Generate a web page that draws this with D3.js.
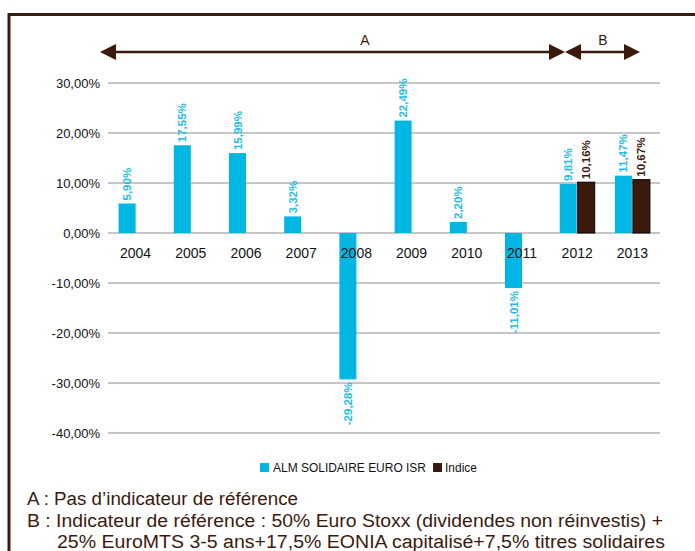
<!DOCTYPE html>
<html lang="fr">
<head>
<meta charset="utf-8">
<title>ALM SOLIDAIRE EURO ISR</title>
<script src="https://d3js.org/d3.v7.min.js"></script>
<style>
  body { margin: 0; background: #fff; }
  svg { display: block; }
</style>
</head>
<body>
<script>
// data
var years = ["2004", "2005", "2006", "2007", "2008", "2009", "2010", "2011", "2012", "2013"];
var fund = [5.90, 17.55, 15.99, 3.32, -29.28, 22.49, 2.20, -11.01, 9.81, 11.47];
var indice = [null, null, null, null, null, null, null, null, 10.16, 10.67];
var yTicks = [30, 20, 10, 0, -10, -20, -30, -40];
var seriesNames = ["ALM SOLIDAIRE EURO ISR", "Indice"];
var colors = ["#00b7e4", "#3b1a0d"];

var w = 695, h = 551;
var svg = d3.select("body").append("svg").attr("width", w).attr("height", h);

// frame
svg.append("path")
  .attr("d", "M9," + h + "V14.5H" + w)
  .attr("fill", "none").attr("stroke", "#3b1a0d").attr("stroke-width", 3);

var x = d3.scaleBand().domain(years).range([108, 660]);
var y = d3.scaleLinear().domain([-40, 30]).range([433, 83]);
var barW = 17;

function fmt(v) { return v.toFixed(2).replace(".", ",") + "%"; }

// gridlines
svg.selectAll("line.grid").data(yTicks).enter().append("line")
  .attr("x1", 108).attr("x2", 660)
  .attr("y1", function (d) { return y(d); }).attr("y2", function (d) { return y(d); })
  .attr("stroke", "#b3b3b3").attr("stroke-width", 1.5);

svg.selectAll("text.ytick").data(yTicks).enter().append("text")
  .attr("x", 100).attr("y", function (d) { return y(d) + 4.5; })
  .attr("text-anchor", "end")
  .attr("font-family", "'Liberation Sans', Arial, sans-serif")
  .attr("font-size", "13px").attr("fill", "#111")
  .text(function (d) { return d.toFixed(2).replace(".", ",") + "%"; });

// bars
function barX(i, s) {
  var c = x(years[i]) + x.bandwidth() / 2;
  var hasIdx = indice[i] !== null;
  if (!hasIdx) return c - barW;
  return s === 0 ? c - barW - 0.5 : c + 0.5;
}

var bars = [];
fund.forEach(function (v, i) { bars.push({ i: i, s: 0, v: v }); });
indice.forEach(function (v, i) { if (v !== null) bars.push({ i: i, s: 1, v: v }); });

svg.selectAll("rect.bar").data(bars).enter().append("rect")
  .attr("x", function (d) { return barX(d.i, d.s); })
  .attr("y", function (d) { return y(Math.max(0, d.v)); })
  .attr("width", barW)
  .attr("height", function (d) { return Math.abs(y(d.v) - y(0)); })
  .attr("fill", function (d) { return colors[d.s]; })
  .attr("stroke", function (d) { return d.s === 1 ? "#000" : "none"; })
  .attr("stroke-width", 1);

// year labels
svg.selectAll("text.year").data(years).enter().append("text")
  .attr("x", function (d) { return x(d) + x.bandwidth() / 2; })
  .attr("y", y(0) + 25)
  .attr("text-anchor", "middle")
  .attr("font-family", "'Liberation Sans', Arial, sans-serif")
  .attr("font-size", "14px").attr("fill", "#111")
  .text(function (d) { return d; });

// value labels
svg.selectAll("text.val").data(bars).enter().append("text")
  .attr("transform", function (d) {
    var cx = barX(d.i, d.s) + barW / 2 + 4;
    var cy = d.v >= 0 ? y(d.v) - 3 : y(d.v) + 3;
    return "translate(" + cx + "," + cy + ") rotate(-90)";
  })
  .attr("text-anchor", function (d) { return d.v >= 0 ? "start" : "end"; })
  .attr("font-family", "'Liberation Sans', Arial, sans-serif")
  .attr("font-size", "11.5px").attr("font-weight", "bold")
  .attr("fill", function (d) { return d.s === 1 ? "#3b1a0d" : "#1fbde6"; })
  .text(function (d) { return fmt(d.v); });

// period arrows
var brown = "#3b1a0d";
var ay = 52, aL = 100, aM = 565, aR = 640;
svg.append("line").attr("x1", aL + 14).attr("x2", aM - 12).attr("y1", ay).attr("y2", ay)
  .attr("stroke", brown).attr("stroke-width", 2.5);
svg.append("line").attr("x1", aM + 12).attr("x2", aR - 14).attr("y1", ay).attr("y2", ay)
  .attr("stroke", brown).attr("stroke-width", 2.5);
function head(tip, dir) {
  svg.append("path")
    .attr("d", "M" + tip + "," + ay + "L" + (tip + dir * 16) + "," + (ay - 8) + "L" + (tip + dir * 16) + "," + (ay + 8) + "Z")
    .attr("fill", brown);
}
head(aL, 1); head(aM, -1); head(aM, 1); head(aR, -1);
svg.append("text").attr("x", 365).attr("y", 45).attr("text-anchor", "middle")
  .attr("font-family", "'Liberation Sans', Arial, sans-serif").attr("font-size", "14px").attr("fill", brown).text("A");
svg.append("text").attr("x", 603).attr("y", 45).attr("text-anchor", "middle")
  .attr("font-family", "'Liberation Sans', Arial, sans-serif").attr("font-size", "14px").attr("fill", brown).text("B");

// legend
var lg = svg.append("g").attr("font-family", "'Liberation Sans', Arial, sans-serif").attr("font-size", "12.5px").attr("fill", "#111");
lg.append("rect").attr("x", 260).attr("y", 463).attr("width", 9).attr("height", 9).attr("fill", colors[0]);
lg.append("text").attr("x", 273).attr("y", 472).attr("textLength", 153).attr("lengthAdjust", "spacingAndGlyphs").text(seriesNames[0]);
lg.append("rect").attr("x", 433).attr("y", 463).attr("width", 9).attr("height", 9).attr("fill", colors[1]);
lg.append("text").attr("x", 445).attr("y", 472).attr("textLength", 32).attr("lengthAdjust", "spacingAndGlyphs").text(seriesNames[1]);

// notes
var notes = svg.append("g").attr("font-family", "'Liberation Sans', Arial, sans-serif").attr("font-size", "18px").attr("fill", "#3b1a0d");
notes.append("text").attr("x", 27).attr("y", 505).attr("textLength", 271).attr("lengthAdjust", "spacingAndGlyphs")
  .text("A : Pas d\u2019indicateur de référence");
notes.append("text").attr("x", 27).attr("y", 527).attr("textLength", 636).attr("lengthAdjust", "spacingAndGlyphs")
  .text("B : Indicateur de référence : 50% Euro Stoxx (dividendes non réinvestis) +");
notes.append("text").attr("x", 57).attr("y", 548).attr("textLength", 608).attr("lengthAdjust", "spacingAndGlyphs")
  .text("25% EuroMTS 3-5 ans+17,5% EONIA capitalisé+7,5% titres solidaires");
</script>
</body>
</html>
